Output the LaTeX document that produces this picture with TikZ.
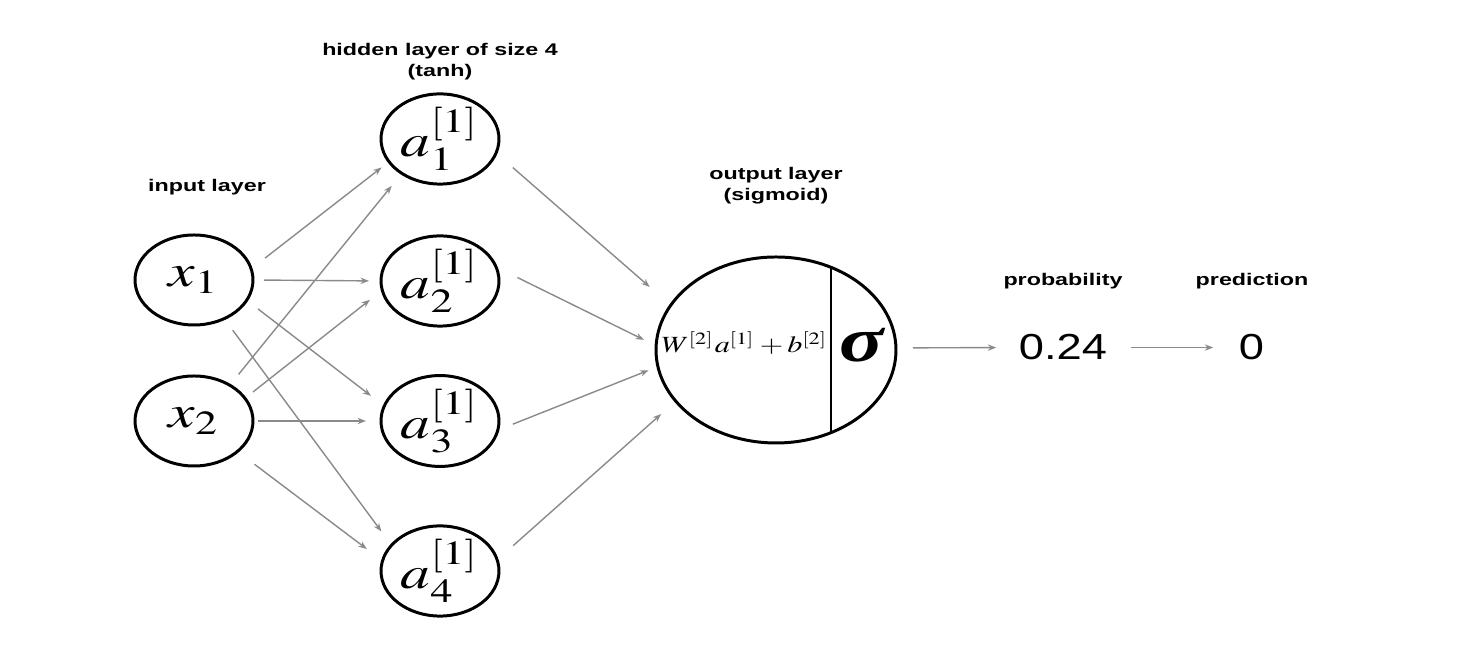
\documentclass[tikz,border=0pt]{standalone}
\usepackage{mathptmx}
\usepackage[no-math]{fontspec}
\setmainfont{Liberation Sans}
\newfontfamily\sigfont{Liberation Serif}
\usepackage{graphicx}
\usetikzlibrary{shapes.geometric,arrows.meta}
\definecolor{arrgray}{HTML}{8A8A8A}
\newcommand{\sx}[1]{\scalebox{1.3}[1]{#1}}
\newcommand{\lbl}[1]{\scalebox{1.38}[1]{#1}}
\newcommand{\vx}[1]{\scalebox{1.25}[1]{#1}}
\tikzset{
  neuron/.style={ellipse, draw, line width=0.85pt, inner sep=0pt, outer sep=0pt,
    minimum width=11.8mm, minimum height=9mm, font=\fontsize{13}{15}\selectfont},
  outnode/.style={ellipse, draw, line width=0.85pt, inner sep=0pt, outer sep=0pt,
    minimum width=24mm, minimum height=18.6mm},
  lab/.style={font=\fontsize{4.8}{6}\selectfont\bfseries, inner sep=0pt, align=center},
  val/.style={font=\fontsize{10.3}{12}\selectfont, inner sep=0pt},
  con/.style={draw=arrgray, line width=0.4pt, -{Stealth[length=2.4pt,width=1.8pt]}}
}
\begin{document}
\begin{tikzpicture}[x=0.1mm, y=-0.1mm]
\useasboundingbox (0,0) rectangle (1470,650);
% labels
\node[lab, anchor=base] (lin) at (207,192) {\lbl{input layer}};
\node[lab] (lhid) at (440,62) {\lbl{hidden layer of size 4}\\\lbl{(tanh)}};
\node[lab] (lout) at (776,186) {\lbl{output layer}\\\lbl{(sigmoid)}};
\node[lab, anchor=base] (lprob) at (1063,286) {\lbl{probability}};
\node[lab, anchor=base] (lpred) at (1252,286) {\lbl{prediction}};
% neurons
\node[neuron] (x1) at (194,280) {\sx{$x_1$}};
\node[neuron] (x2) at (194,421) {\sx{$x_2$}};
\node[neuron] (a1) at (440,139) {\sx{$a_1^{[1]}$}};
\node[neuron] (a2) at (440,281) {\sx{$a_2^{[1]}$}};
\node[neuron] (a3) at (440,421) {\sx{$a_3^{[1]}$}};
\node[neuron] (a4) at (440,571) {\sx{$a_4^{[1]}$}};
% output unit
\node[outnode] (out) at (776,350) {};
\draw[line width=0.55pt] (831,267.3) -- (831,432.7);
\node[inner sep=0pt, anchor=base, font=\fontsize{6.6}{8}\selectfont] (lin2) at (745,353) {\sx{$W^{[2]}a^{[1]}+b^{[2]}$}};
\node[inner sep=0pt, anchor=base, font=\fontsize{18}{20}\selectfont] (sig) at (862,362) {\sx{\sigfont\bfseries\itshape σ}};
% values
\node[val, anchor=base] (prob) at (1063,360) {\vx{0.24}};
\node[val, anchor=base] (pred) at (1251.5,360) {\vx{0}};
% connectors
\foreach \s/\sa/\t/\ta/\p/\q in {
  x1/11.2/a1/204.7/1.75/0.94,
  x2/45.9/a1/222.5/1.40/1.61,
  x1/0/a2/180/1.1/1.2,
  x1/339/a3/165.1/1.43/1.675,
  x1/308.5/a4/152.7/1.43/1.71,
  x2/24/a2/189.3/1.02/1.56,
  x2/0/a3/180/0.5/1.5,
  x2/325.8/a4/170/2.14/1.96,
  a1/346.8/out/157.7/2.22/2.79,
  a2/14.8/out/178.6/2.38/1.35,
  a3/351.4/out/188.9/1.62/1.0,
  a4/11.85/out/207.7/2.14/1.95}
  {\draw[con, shorten <=\p mm, shorten >=\q mm] (\s.\sa) -- (\t.\ta);}
\draw[con, shorten <=1.7mm, shorten >=2.2mm] (out.1.4) -- (prob.west);
\draw[con, shorten <=2.3mm, shorten >=2.5mm] (prob.east) -- (pred.west);
\end{tikzpicture}
\end{document}
